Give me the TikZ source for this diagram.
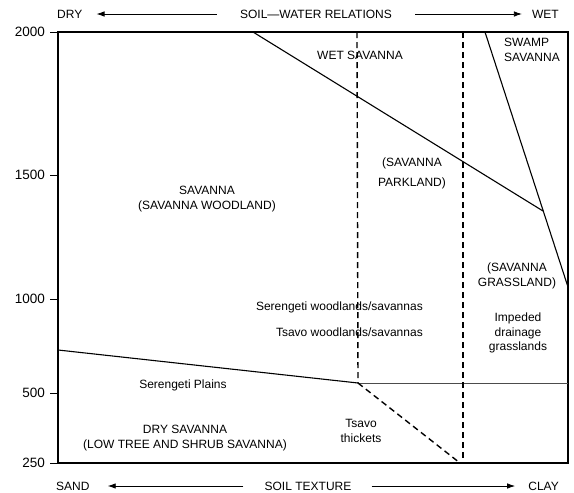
\documentclass[tikz,border=0pt]{standalone}
\usepackage{fontspec}
\setmainfont{Liberation Sans}
\usetikzlibrary{arrows.meta}
\begin{document}
\begin{tikzpicture}[x=1pt,y=-1pt,
  lbl/.style={font=\fontsize{12}{14.5}\selectfont, inner sep=0pt, align=center},
  oneline/.style={lbl, text height=8.6pt, text depth=0pt},
  scalelbl/.style={font=\fontsize{13.5}{15}\selectfont, inner sep=0pt,
              text height=9.7pt, text depth=0pt, anchor=east},
  frame/.style={line width=1.6pt},
  bound/.style={line width=1.1pt},
  divide/.style={line width=1.4pt, dash pattern=on 6pt off 4pt},
  softline/.style={line width=1pt, black!70},
  axisarrow/.style={line width=0.8pt, -{Latex[length=8pt,width=5.5pt]}},
  tickmark/.style={line width=1pt}]
\useasboundingbox (0,0) rectangle (574,493);

% plot frame
\coordinate (tl) at (58,32);
\coordinate (br) at (568,463);
\draw[frame] (tl) rectangle (br);

% rainfall scale on the left
\foreach \v/\y in {2000/32, 1500/175, 1000/299, 500/393, 250/463} {
  \node[scalelbl] (t\v) at (45,\y) {\v};
  \coordinate (k\v) at (58,\y);
  \draw[tickmark] ([xshift=5pt]t\v.east) -- (k\v);
}

% header: soil-water relations
\node[oneline, anchor=west] (dry) at (57,14) {DRY};
\node[oneline] (sw) at (316,14) {SOIL—WATER RELATIONS};
\node[oneline, anchor=east] (wet) at (559,14) {WET};
\draw[axisarrow, shorten <=23pt, shorten >=14pt] (sw.west) -- (dry.east);
\draw[axisarrow, shorten <=23pt, shorten >=10pt] (sw.east) -- (wet.west);

% footer: soil texture
\node[oneline, anchor=west] (sand) at (56,486) {SAND};
\node[oneline] (st) at (308,486) {SOIL TEXTURE};
\node[oneline, anchor=east] (clay) at (559,486) {CLAY};
\draw[axisarrow, shorten <=21pt, shorten >=18pt] (st.west) -- (sand.east);
\draw[axisarrow, shorten <=20pt, shorten >=13pt] (st.east) -- (clay.west);

% vegetation boundaries
\coordinate (wA) at (253,32);
\coordinate (junc) at (543,211);
\coordinate (swA) at (485,32);
\coordinate (swB) at (568,287);
\coordinate (dA) at (58,350);
\coordinate (dB) at (358,383);
\coordinate (dC) at (568,383);
\coordinate (v1top) at (357,32);
\coordinate (v2top) at (463,32);
\coordinate (v2bot) at (463,463);
\coordinate (thk) at (460,463);

\draw[bound] (wA) -- (junc);
\draw[bound] (swA) -- (swB);
\draw[bound] (dA) -- (dB);
\draw[softline] (dB) -- (dC);
\draw[divide] (v1top) -- (dB);
\draw[divide] (v2top) -- (v2bot);
\draw[divide] (dB) -- (thk);

% zone labels
\node[oneline] (wetsav) at (360,55) {WET SAVANNA};
\node[lbl, align=left, anchor=west] (swamp) at (504,50) {SWAMP\\SAVANNA};
\node[lbl] (sav) at (207,199) {SAVANNA\\(SAVANNA WOODLAND)};
\node[lbl, font=\fontsize{12}{20}\selectfont] (park) at (412,173) {(SAVANNA\\PARKLAND)};
\node[lbl] (grass) at (517,276) {(SAVANNA\\GRASSLAND)};
\node[oneline, anchor=east] (serw) at (423,306) {Serengeti woodlands/savannas};
\node[oneline, anchor=east] (tsw) at (423,332) {Tsavo woodlands/savannas};
\node[lbl] (imp) at (518,333) {Impeded\\drainage\\grasslands};
\node[oneline] (serp) at (183,384) {Serengeti Plains};
\node[lbl] (drysav) at (185,438) {DRY SAVANNA\\(LOW TREE AND SHRUB SAVANNA)};
\node[lbl] (tsth) at (361,431) {Tsavo\\thickets};
\end{tikzpicture}
\end{document}
